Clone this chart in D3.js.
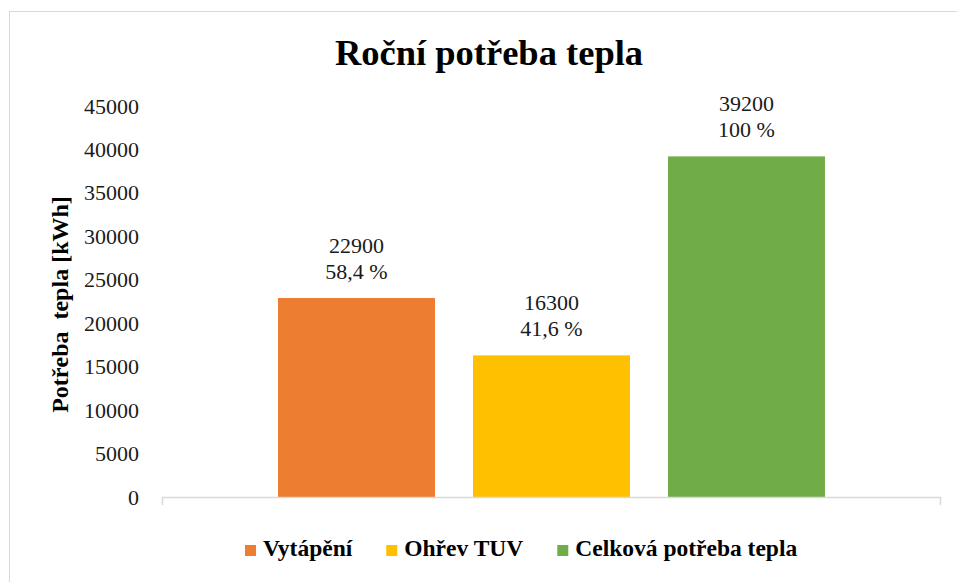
<!DOCTYPE html>
<html>
<head>
<meta charset="utf-8">
<script src="https://cdn.jsdelivr.net/npm/d3@7"></script>
<style>
body { margin: 0; background: #fff; }
text { font-family: "Liberation Serif", "Times New Roman", serif; }
</style>
</head>
<body>
<div id="chart"></div>
<script>
// data
const series = ["Vytápění", "Ohřev TUV", "Celková potřeba tepla"];
const values = [22900, 16300, 39200];
const shares = ["58,4 %", "41,6 %", "100 %"];
const colors = ["#ED7D31", "#FFC000", "#70AD47"];
const yTicks = [0, 5000, 10000, 15000, 20000, 25000, 30000, 35000, 40000, 45000];

const width = 957, height = 582;
const plot = { left: 162, right: 941, top: 106, bottom: 497 };

const svg = d3.select("#chart").append("svg")
    .attr("width", width)
    .attr("height", height);

// outer chart border (cut off at right and bottom like the original)
svg.append("rect")
    .attr("x", 9.5).attr("y", 11.5)
    .attr("width", 980).attr("height", 600)
    .attr("fill", "none")
    .attr("stroke", "#D9D9D9");

svg.append("text")
    .attr("x", 489).attr("y", 65)
    .attr("text-anchor", "middle")
    .attr("font-size", "36.5px")
    .attr("font-weight", "bold")
    .attr("fill", "#000")
    .text("Roční potřeba tepla");

const y = d3.scaleLinear()
    .domain([0, 45000])
    .range([plot.bottom, plot.top]);

// one category, three series side by side
const gap = 116;
const x = d3.scaleBand()
    .domain(series)
    .range([plot.left + gap, plot.right - gap])
    .paddingInner(0.195)
    .paddingOuter(0);

const yAxis = svg.append("g")
    .attr("transform", "translate(" + plot.left + ",0)")
    .call(d3.axisLeft(y).tickValues(yTicks).tickSize(0).tickPadding(23).tickFormat(d3.format("d")));
yAxis.select(".domain").remove();
yAxis.selectAll("text")
    .attr("font-size", "22px")
    .attr("fill", "#1a1a1a")
    .style("font-family", "'Liberation Serif', serif");

svg.append("text")
    .attr("transform", "translate(68," + ((plot.top + plot.bottom) / 2 + 3) + ") rotate(-90)")
    .attr("text-anchor", "middle")
    .attr("font-size", "24px")
    .attr("font-weight", "bold")
    .attr("fill", "#000")
    .attr("xml:space", "preserve")
    .style("white-space", "pre")
    .text("Potřeba  tepla [kWh]");

// bars
svg.selectAll("rect.bar")
    .data(values)
    .enter().append("rect")
    .attr("class", "bar")
    .attr("x", (d, i) => x(series[i]))
    .attr("y", d => y(d))
    .attr("width", x.bandwidth())
    .attr("height", d => y(0) - y(d))
    .attr("fill", (d, i) => colors[i]);

// x axis line with end ticks
svg.append("path")
    .attr("d", "M" + (plot.left + 0.5) + "," + (plot.bottom + 8) + "V" + (plot.bottom + 0.5) +
        "H" + (plot.right - 0.5) + "V" + (plot.bottom + 8))
    .attr("fill", "none")
    .attr("stroke", "#D9D9D9")
    .attr("stroke-width", 1.5);

// data labels
const labels = svg.selectAll("text.lbl")
    .data(values)
    .enter().append("text")
    .attr("class", "lbl")
    .attr("text-anchor", "middle")
    .attr("font-size", "22px")
    .attr("fill", "#1a1a1a");
labels.append("tspan")
    .attr("x", (d, i) => x(series[i]) + x.bandwidth() / 2)
    .attr("y", d => y(d) - 45)
    .text(d => d);
labels.append("tspan")
    .attr("x", (d, i) => x(series[i]) + x.bandwidth() / 2)
    .attr("y", d => y(d) - 19)
    .text((d, i) => shares[i]);

// legend
const legend = svg.append("g").attr("transform", "translate(245,0)");
let lx = 0;
series.forEach((s, i) => {
    legend.append("rect")
        .attr("x", lx).attr("y", 545)
        .attr("width", 11).attr("height", 11)
        .attr("fill", colors[i]);
    const t = legend.append("text")
        .attr("x", lx + 18).attr("y", 556)
        .attr("font-size", "23.5px")
        .attr("font-weight", "bold")
        .attr("fill", "#000")
        .text(s);
    lx += 18 + t.node().getComputedTextLength() + 34;
});
</script>
</body>
</html>
